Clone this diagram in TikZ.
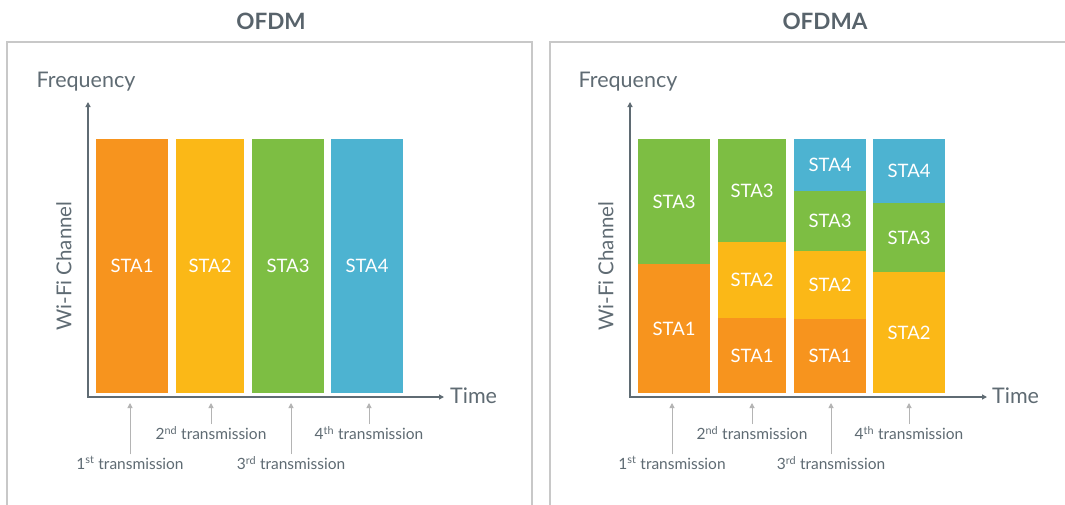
\documentclass[tikz,border=0pt]{standalone}
\usepackage{fontspec}
\setmainfont{Lato}
\usetikzlibrary{arrows.meta}
\definecolor{orangeC}{HTML}{F7941E}
\definecolor{yellowC}{HTML}{FBB817}
\definecolor{greenC}{HTML}{7DBE43}
\definecolor{blueC}{HTML}{4DB3D1}
\definecolor{axisC}{HTML}{5F6B73}
\definecolor{textC}{HTML}{5F6B73}
\definecolor{titleC}{HTML}{58636B}
\definecolor{frameC}{HTML}{C8C8C8}
\definecolor{tickC}{HTML}{B4B4B4}
\newcommand\seg[7]{%
  \pgfmathsetmacro\segw{#4-#2}%
  \pgfmathsetmacro\segh{#5-#3}%
  \node[seg, fill=#6, minimum width=\segw pt, minimum height=\segh pt] (#1) at ({(#2+#4)/2},{(#3+#5)/2}) {#7};}
\tikzset{
  seg/.style={draw=none, inner sep=0pt, outer sep=0pt, text=white, font=\fontsize{18.5}{20}\selectfont},
  frame/.style={draw=frameC, line width=1.5pt},
  axis/.style={draw=axisC, line width=1.2pt, {Triangle[length=5pt,width=5pt]}-{Triangle[length=5pt,width=5pt]}},
  tick/.style={draw=tickC, line width=1pt, -{Triangle[length=5pt,width=5pt]}},
  lbl/.style={text=textC, font=\fontsize{15.5}{17}\selectfont, inner sep=2pt},
  axlbl/.style={text=textC, font=\fontsize{21.5}{23}\selectfont, inner sep=0pt},
  wlbl/.style={text=textC, font=\fontsize{20.5}{22}\selectfont, inner sep=0pt},
  ptitle/.style={text=titleC, font=\bfseries\fontsize{22.5}{24}\selectfont},
}
\begin{document}
\begin{tikzpicture}[x=1pt,y=-1pt]
\clip (0,0) rectangle (1065,504);
\fill[white] (0,0) rectangle (1065,504);
% ---------- titles and frames
\node[ptitle] (tl) at (271,21) {OFDM};
\node[ptitle] (tr) at (825,21) {OFDMA};
\draw[frame] (7,520) -- (7,42) -- (532,42) -- (532,520);
\draw[frame] (550,520) -- (550,42) -- (1080,42) -- (1080,520);
% ---------- left panel
\coordinate (o1) at (88,397);
\coordinate (f1) at (88,102);
\coordinate (t1) at (444,397);
\draw[axis] (f1) -- (o1) -- (t1);
\node[axlbl] (freq1) at (86,82) {Frequency};
\node[axlbl, anchor=west] (time1) at (450,396) {Time};
\node[wlbl, rotate=90] (wifi1) at (64,266) {Wi-Fi Channel};
\seg{a1}{96}{139}{168}{393}{orangeC}{STA1}
\seg{a2}{176}{139}{244}{393}{yellowC}{STA2}
\seg{a3}{252}{139}{324}{393}{greenC}{STA3}
\seg{a4}{331}{139}{403}{393}{blueC}{STA4}
\coordinate (tip1) at (0,403);
\node[lbl] (l1a) at (130,463) {1\textsuperscript{st} transmission};
\node[lbl] (l1b) at (211,433) {2\textsuperscript{nd} transmission};
\node[lbl] (l1c) at (291,463) {3\textsuperscript{rd} transmission};
\node[lbl] (l1d) at (369,433) {4\textsuperscript{th} transmission};
\foreach \n in {l1a,l1b,l1c,l1d}{\draw[tick] (\n.north) -- (\n.north |- tip1);}
% ---------- right panel
\coordinate (o2) at (630,397);
\coordinate (f2) at (630,102);
\coordinate (t2) at (987,397);
\draw[axis] (f2) -- (o2) -- (t2);
\node[axlbl] (freq2) at (628,82) {Frequency};
\node[axlbl, anchor=west] (time2) at (992,396) {Time};
\node[wlbl, rotate=90] (wifi2) at (606,266) {Wi-Fi Channel};
% column 1
\seg{b11}{638}{139}{710}{264}{greenC}{STA3}
\seg{b12}{638}{264}{710}{393}{orangeC}{STA1}
% column 2
\seg{b21}{718}{139}{786}{242}{greenC}{STA3}
\seg{b22}{718}{242}{786}{318}{yellowC}{STA2}
\seg{b23}{718}{318}{786}{393}{orangeC}{STA1}
% column 3
\seg{b31}{794}{139}{866}{191}{blueC}{STA4}
\seg{b32}{794}{191}{866}{251}{greenC}{STA3}
\seg{b33}{794}{251}{866}{319}{yellowC}{STA2}
\seg{b34}{794}{319}{866}{393}{orangeC}{STA1}
% column 4
\seg{b41}{873}{139}{945}{203}{blueC}{STA4}
\seg{b42}{873}{203}{945}{272}{greenC}{STA3}
\seg{b43}{873}{272}{945}{393}{yellowC}{STA2}
\node[lbl] (l2a) at (672,463) {1\textsuperscript{st} transmission};
\node[lbl] (l2b) at (752,433) {2\textsuperscript{nd} transmission};
\node[lbl] (l2c) at (831,463) {3\textsuperscript{rd} transmission};
\node[lbl] (l2d) at (909,433) {4\textsuperscript{th} transmission};
\foreach \n in {l2a,l2b,l2c,l2d}{\draw[tick] (\n.north) -- (\n.north |- tip1);}
\end{tikzpicture}
\end{document}
